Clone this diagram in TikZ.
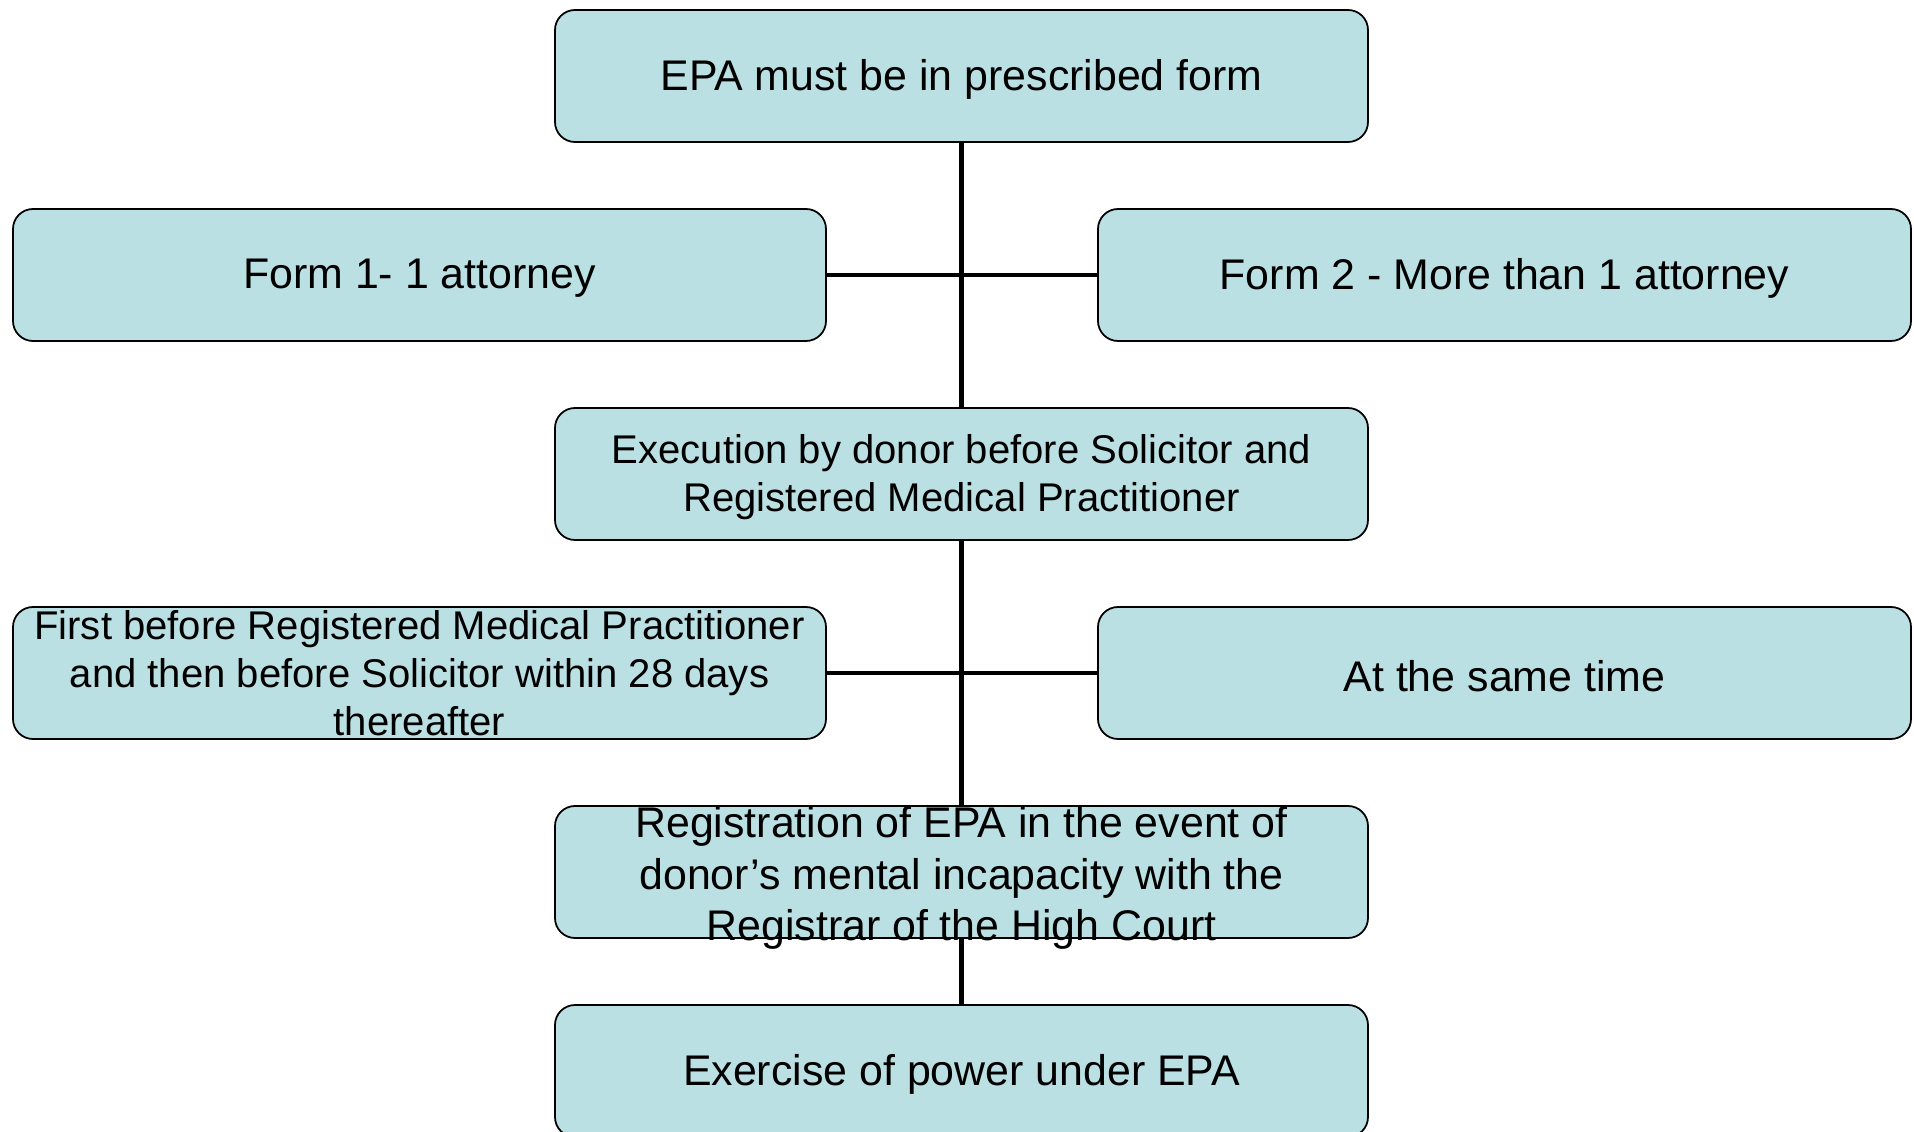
\documentclass[tikz,border=0pt]{standalone}
\usepackage{fontspec}
\setmainfont{Liberation Sans}
\usepackage{xcolor}
\usetikzlibrary{positioning}
\definecolor{boxfill}{RGB}{186,224,227}

\begin{document}
\begin{tikzpicture}[
    box/.style={draw=black, fill=boxfill, rounded corners=0.2cm, line width=0.5pt,
      minimum width=8.13cm, minimum height=1.32cm, inner sep=0pt, outer sep=0pt},
    txt/.style={align=center, font=\fontsize{12.2}{14}\selectfont, inner sep=0pt, yshift=-0.035cm},
    small/.style={font=\fontsize{11.4}{13.6}\selectfont},
    link/.style={line width=1.4pt}]
  \useasboundingbox (-9.615,0.76) rectangle (9.525,-10.56);

  \node[box] (top) at (0,0) {};
  \node[box] (form1) [below left = 0.67cm and -2.71cm of top] {};
  \node[box] (form2) [below right = 0.67cm and -2.70cm of top] {};
  \node[box] (exec) [below = 2.66cm of top] {};
  \node[box] (first) [below left = 0.67cm and -2.71cm of exec] {};
  \node[box] (same) [below right = 0.67cm and -2.70cm of exec] {};
  \node[box] (reg) [below = 2.66cm of exec] {};
  \node[box] (exer) [below = 0.67cm of reg] {};

  \path
    (top.south) edge [link] (exec.north)
    (form1.east) edge [link] (form2.west)
    (exec.south) edge [link] (reg.north)
    (first.east) edge [link] (same.west)
    (reg.south) edge [link] (exer.north);

  \node[txt] (toptext) at (top) {EPA must be in prescribed form};
  \node[txt] (form1text) at (form1) {Form 1- 1 attorney};
  \node[txt] (form2text) at (form2) {Form 2 - More than 1 attorney};
  \node[txt, small] (exectext) at (exec) {Execution by donor before Solicitor and\\Registered Medical Practitioner};
  \node[txt, small, yshift=0.035cm] (firsttext) at (first) {First before Registered Medical Practitioner\\and then before Solicitor within 28 days\\thereafter};
  \node[txt] (sametext) at (same) {At the same time};
  \node[txt, font=\fontsize{12.2}{14.7}\selectfont, yshift=-0.025cm] (regtext) at (reg) {Registration of EPA in the event of\\donor’s mental incapacity with the\\Registrar of the High Court};
  \node[txt] (exertext) at (exer) {Exercise of power under EPA};
\end{tikzpicture}
\end{document}
